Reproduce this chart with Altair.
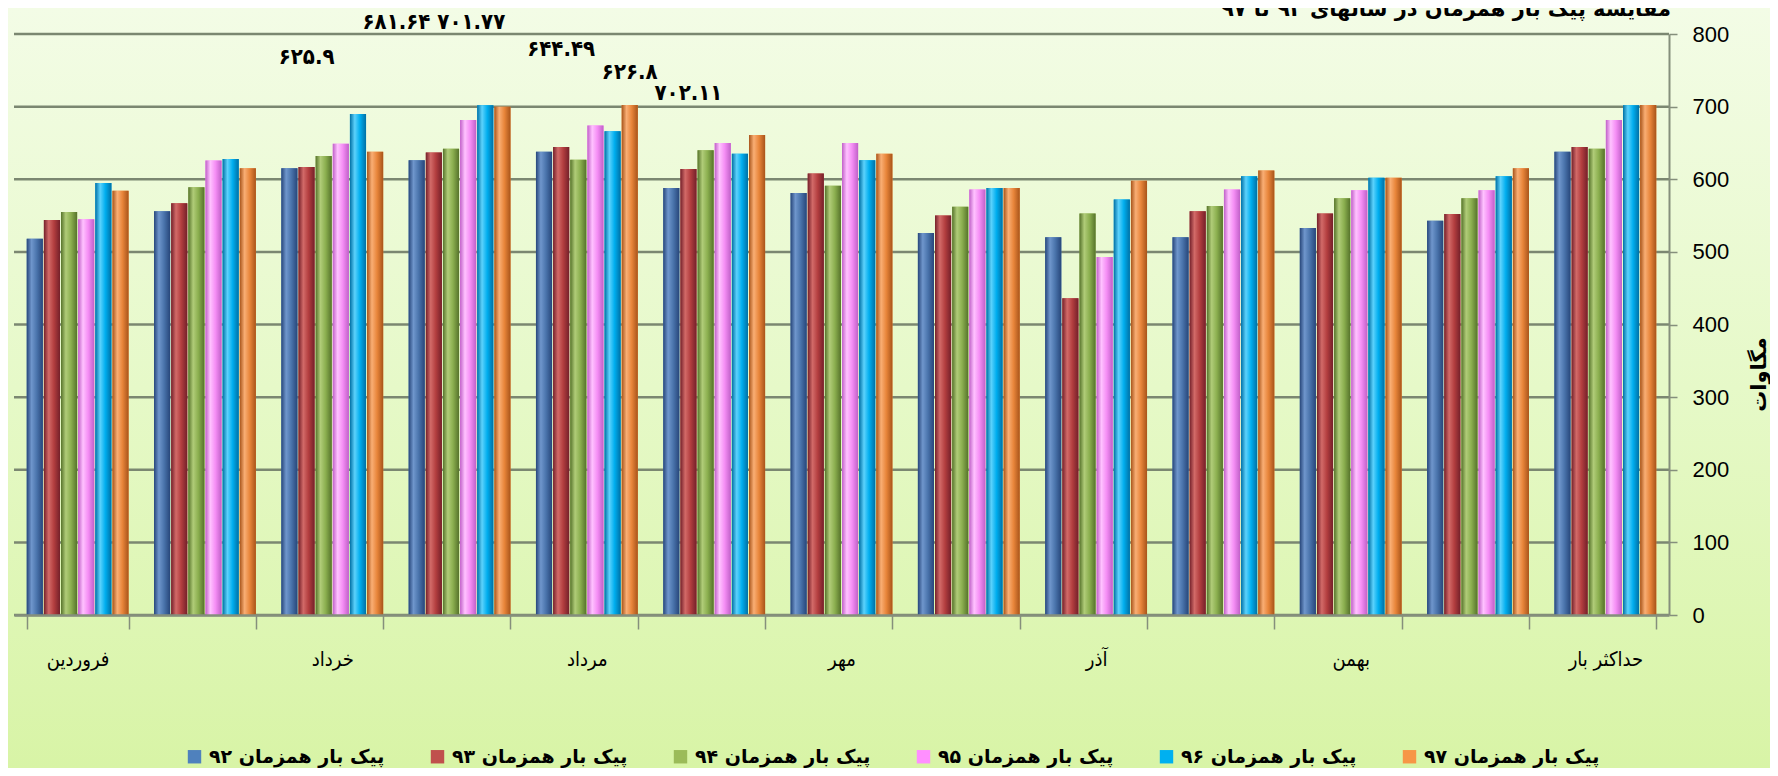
import json
import altair as alt
import pandas as pd

# ---------------- data ----------------
months = ["فروردین", "اردیبهشت", "خرداد", "تیر", "مرداد", "شهریور", "مهر",
          "آبان", "آذر", "دی", "بهمن", "اسفند", "حداکثر بار"]
shown_x_labels = ["فروردین", "خرداد", "مرداد", "مهر", "آذر", "بهمن", "حداکثر بار"]
series_names = ["پیک بار همزمان ۹۲", "پیک بار همزمان ۹۳", "پیک بار همزمان ۹۴",
                "پیک بار همزمان ۹۵", "پیک بار همزمان ۹۶", "پیک بار همزمان ۹۷"]

peak_92 = [518, 556, 615, 626, 638, 588, 581, 526, 520, 520, 533, 543, 638]
peak_93 = [544, 567, 617, 637, 644.49, 614, 608, 550, 436, 556, 553, 552, 644.49]
peak_94 = [555, 589, 632, 642, 626.8, 640, 591, 562, 553, 563, 574, 574, 642]
peak_95 = [545, 625.9, 649, 681.64, 674, 650, 650, 586, 493, 586, 585, 585, 681.64]
peak_96 = [595, 628, 690, 701.77, 666, 635, 626, 588, 572, 604, 602, 604, 701.77]
peak_97 = [584, 615, 638, 700, 702.11, 661, 635, 588, 598, 612, 602, 615, 702.11]

# floating data labels (as placed in the original)
label_texts = ["۶۲۵.۹", "۶۸۱.۶۴ ۷۰۱.۷۷", "۶۴۴.۴۹", "۶۲۶.۸", "۷۰۲.۱۱"]
label_months = ["خرداد", "تیر", "مرداد", "مرداد", "شهریور"]
label_series = ["پیک بار همزمان ۹۳", "پیک بار همزمان ۹۳", "پیک بار همزمان ۹۳",
                "پیک بار همزمان ۹۷", "پیک بار همزمان ۹۳"]
label_levels = [768, 816, 779, 748, 719]

y_ticks = [0, 100, 200, 300, 400, 500, 600, 700, 800]

title_text = "مقایسه پیک بار همزمان در سالهای ۹۲ تا ۹۷"
y_title = "مگاوات"

# ---------------- styles ----------------
legend_colors = ["#4F81BD", "#C0504D", "#9BBB59", "#FF8FFF", "#00B0F0", "#F79646"]
bar_shades = [  # dark edge, highlight, base
    ("#27467A", "#6F96CC", "#4A74AC"),
    ("#74202A", "#D26A68", "#B33E3F"),
    ("#56732B", "#B0CC78", "#8BAF4F"),
    ("#C060C8", "#FFC2FF", "#F58EF5"),
    ("#0070A5", "#5CD2FC", "#00AEEF"),
    ("#A8541A", "#F9AE74", "#E8853A"),
]

rows = []
for s, vals in zip(series_names, [peak_92, peak_93, peak_94, peak_95, peak_96, peak_97]):
    for m, v in zip(months, vals):
        rows.append({"month": m, "series": s, "value": v})
df = pd.DataFrame(rows)

labels_df = pd.DataFrame({"month": label_months, "series": label_series,
                          "level": label_levels, "text": label_texts})
grid_df = pd.DataFrame({"tick": y_ticks})

W, H = 1655, 581
PAD = {"left": 6, "top": 26, "right": 101, "bottom": 153}

grey = "#858f7c"
x_scale = alt.Scale(domain=months, paddingInner=0.2, paddingOuter=0.1)
off_scale = alt.Scale(domain=series_names, paddingInner=0.06)
y_scale = alt.Scale(domain=[0, 800], nice=False)

label_expr = ("indexof(" + json.dumps(shown_x_labels, ensure_ascii=False)
              + ", datum.value) >= 0 ? datum.label : ''")

x_axis = alt.Axis(title=None, labelExpr=label_expr, labelAngle=0, zindex=1,
                  labelFont="DejaVu Sans Condensed, DejaVu Sans", labelFontSize=20,
                  labelColor="#000000", labelPadding=20, tickBand="extent",
                  tickSize=14, tickColor=grey, tickWidth=1.5,
                  domainColor=grey, domainWidth=2.5, grid=False)
y_axis = alt.Axis(orient="right", values=y_ticks, title=y_title, grid=False, zindex=1,
                  titleFont="DejaVu Sans", titleFontSize=21, titleFontWeight="bold",
                  titleColor="#000000", titleAngle=270, titleX=90, titleY=340,
                  titleAlign="center", titleBaseline="middle",
                  labelFont="Liberation Sans", labelFontSize=22, labelColor="#000000",
                  labelPadding=15, tickSize=8, tickColor=grey, tickWidth=1.5,
                  domainColor=grey, domainWidth=2)


def x_enc():
    return alt.X("month:N", scale=x_scale, sort=months, axis=x_axis)


def off_enc():
    return alt.XOffset("series:N", scale=off_scale, sort=series_names)


def y_enc(field):
    return alt.Y(field + ":Q", scale=y_scale, axis=y_axis)


bg_gradient = alt.Gradient(
    gradient="linear",
    stops=[alt.GradientStop(color="#F3FCE6", offset=0),
           alt.GradientStop(color="#E6F9C8", offset=0.5),
           alt.GradientStop(color="#D8F4A6", offset=1)],
    x1=0, x2=0, y1=0, y2=1)

background = alt.Chart(alt.Data(values=[{}])).mark_rect(fill=bg_gradient).encode(
    x=alt.value(-PAD["left"]), x2=alt.value(W + PAD["right"]),
    y=alt.value(-PAD["top"]), y2=alt.value(H + PAD["bottom"]))

grid = alt.Chart(grid_df).mark_rule(color="#7b8771", strokeWidth=2.5).encode(
    y=y_enc("tick"), x=alt.value(0), x2=alt.value(W))

base = alt.Chart(df).mark_bar().encode(
    x=x_enc(), xOffset=off_enc(), y=y_enc("value"),
    color=alt.Color("series:N", sort=series_names,
                    scale=alt.Scale(domain=series_names, range=legend_colors),
                    legend=alt.Legend(title=None, orient="none", legendX=171, legendY=713,
                                      direction="horizontal", columns=6, zindex=1,
                                      symbolType="square", symbolSize=180,
                                      symbolStrokeWidth=0,
                                      labelFont="DejaVu Sans", labelFontSize=19,
                                      labelFontWeight="bold",
                                      labelColor="#000000", labelLimit=400,
                                      columnPadding=43, labelOffset=5)))

overlays = []
for s, (dark, hi, mid) in zip(series_names, bar_shades):
    grad = alt.Gradient(
        gradient="linear",
        stops=[alt.GradientStop(color=dark, offset=0),
               alt.GradientStop(color=hi, offset=0.3),
               alt.GradientStop(color=mid, offset=0.62),
               alt.GradientStop(color=dark, offset=1)],
        x1=0, x2=1, y1=0, y2=0)
    overlays.append(
        alt.Chart(df).transform_filter(alt.datum.series == s)
        .mark_bar(fill=grad).encode(x=x_enc(), xOffset=off_enc(), y=y_enc("value")))

labels = alt.Chart(labels_df).mark_text(
    font="DejaVu Sans Condensed, DejaVu Sans", fontSize=22, fontWeight="bold",
    color="#000000", baseline="middle").encode(
    x=x_enc(), xOffset=off_enc(), y=y_enc("level"), text="text:N")

title = alt.Chart(alt.Data(values=[{}])).mark_text(
    text=title_text, font="DejaVu Sans", fontSize=21, fontWeight="bold",
    color="#000000", align="center", baseline="alphabetic").encode(
    x=alt.value(1432), y=alt.value(-18))

chart = alt.layer(background, grid, base, *overlays, labels, title).properties(
    width=W, height=H, padding=PAD,
    autosize=alt.AutoSizeParams(type="none"),
    background="#E6F8C8",
).configure_view(stroke=None)

chart.save("out.html", embed_options={"renderer": "svg", "actions": False})
